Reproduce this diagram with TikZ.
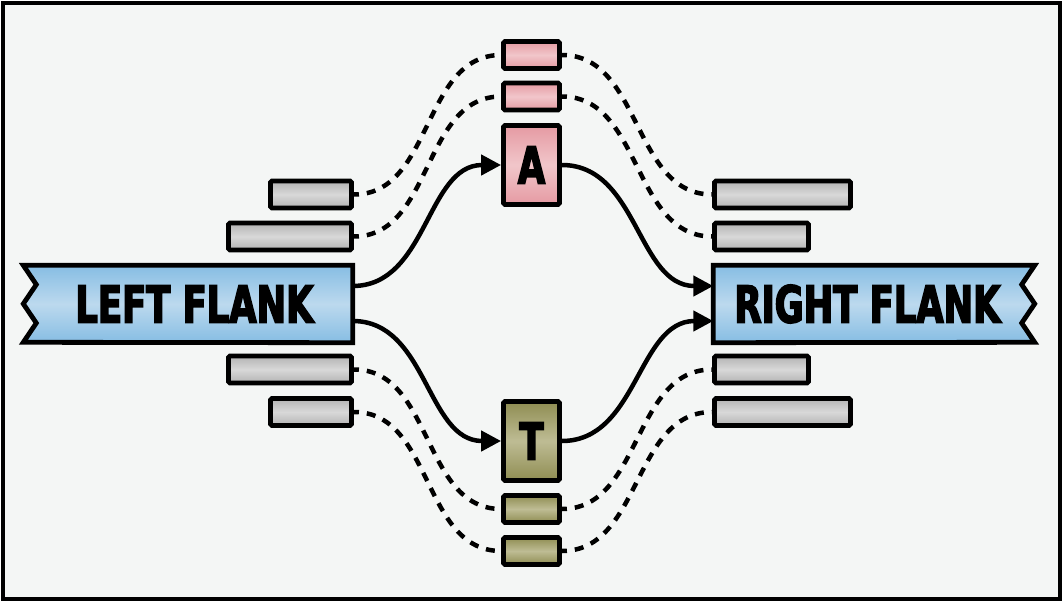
\documentclass[tikz,border=0pt]{standalone}
\usepackage{fontspec}
\usetikzlibrary{arrows.meta,backgrounds}
\newfontfamily\flankfont[FakeStretch=0.77,FakeBold=3]{DejaVu Sans Condensed Bold}
\definecolor{paper}{HTML}{F4F6F5}
\definecolor{flankdark}{HTML}{86BDE3}
\definecolor{flanklight}{HTML}{BCD9EE}
\definecolor{adark}{HTML}{E59AA2}
\definecolor{alight}{HTML}{F1C6CA}
\definecolor{tdark}{HTML}{8F8D52}
\definecolor{tlight}{HTML}{BEBC94}
\definecolor{bardark}{HTML}{B3B3B3}
\definecolor{barlight}{HTML}{D8D8D8}
\tikzset{
  box/.style={draw, line width=4.8pt, inner sep=0pt, rounded corners=1.5pt},
  bar/.style={box, top color=bardark, bottom color=bardark, middle color=barlight, minimum height=27pt},
  abox/.style={box, top color=adark, bottom color=adark, middle color=alight, minimum width=56pt, minimum height=27pt},
  tbox/.style={box, top color=tdark, bottom color=tdark, middle color=tlight, minimum width=56pt, minimum height=27pt},
  letter/.style={minimum height=79pt, font=\flankfont\fontsize{51}{51}\selectfont},
  flanknode/.style={inner sep=0pt, minimum height=77pt, font=\flankfont\fontsize{51}{51}\selectfont},
  ribbon/.style={draw, line width=4.8pt, top color=flankdark, bottom color=flankdark, middle color=flanklight},
  link/.style={line width=4.5pt, -{Triangle[length=20pt,width=20pt]}},
  dashlink/.style={line width=4.5pt, dash pattern=on 9pt off 8pt, dash phase=4pt}
}
\begin{document}
\begin{tikzpicture}[x=1pt,y=-1pt]
\useasboundingbox (0,0) rectangle (1063,602);

% flanks
\node[flanknode, minimum width=316pt] (lf) at (194.5,304) {LEFT FLANK};
\node[flanknode, minimum width=308pt] (rf) at (867.5,304) {RIGHT FLANK};

% middle column
\node[abox] (a1) at (531.5,55) {};
\node[abox] (a2) at (531.5,96.5) {};
\node[abox, letter] (A) at (531.5,165) {A};
\node[tbox, letter] (T) at (531.5,441) {T};
\node[tbox] (t1) at (531.5,509) {};
\node[tbox] (t2) at (531.5,551) {};

% left hand bars
\node[bar, minimum width=81pt] (l1) at (311,194.5) {};
\node[bar, minimum width=123pt] (l2) at (290,236.5) {};
\node[bar, minimum width=123pt] (l3) at (290,369.5) {};
\node[bar, minimum width=81pt] (l4) at (311,412) {};

% right hand bars
\node[bar, minimum width=136pt] (r1) at (782.5,194.5) {};
\node[bar, minimum width=94pt] (r2) at (761.5,236.5) {};
\node[bar, minimum width=94pt] (r3) at (761.5,369.5) {};
\node[bar, minimum width=136pt] (r4) at (782.5,412) {};

% frame and ribbons
\begin{scope}[on background layer]
\draw[line width=4.5pt, fill=paper] (3,3) rectangle (1060,599);
\path[ribbon] (lf.north east) -- (lf.north west) -- ++(-13,0) -- ++(13,19.25)
  -- ++(-13,19.25) -- ++(13,19.25) -- ++(-13,19.25) -- (lf.south east) -- cycle;
\path[ribbon] (rf.north west) -- (rf.north east) -- ++(13,0) -- ++(-13,19.25)
  -- ++(13,19.25) -- ++(-13,19.25) -- ++(13,19.25) -- (rf.south west) -- cycle;
\end{scope}

% solid links
\draw[link] ([yshift=18pt]lf.east) to[out=0,in=180] (A.west);
\draw[link] ([yshift=-17pt]lf.east) to[out=0,in=180] (T.west);
\draw[link] (A.east) to[out=0,in=180] ([yshift=18pt]rf.west);
\draw[link] (T.east) to[out=0,in=180] ([yshift=-17pt]rf.west);

% dashed links
\draw[dashlink] (l1.east) to[out=0,in=180] (a1.west);
\draw[dashlink] (l2.east) to[out=0,in=180] (a2.west);
\draw[dashlink] (l3.east) to[out=0,in=180] (t1.west);
\draw[dashlink] (l4.east) to[out=0,in=180] (t2.west);
\draw[dashlink] (a1.east) to[out=0,in=180] (r1.west);
\draw[dashlink] (a2.east) to[out=0,in=180] (r2.west);
\draw[dashlink] (t1.east) to[out=0,in=180] (r3.west);
\draw[dashlink] (t2.east) to[out=0,in=180] (r4.west);
\end{tikzpicture}
\end{document}
